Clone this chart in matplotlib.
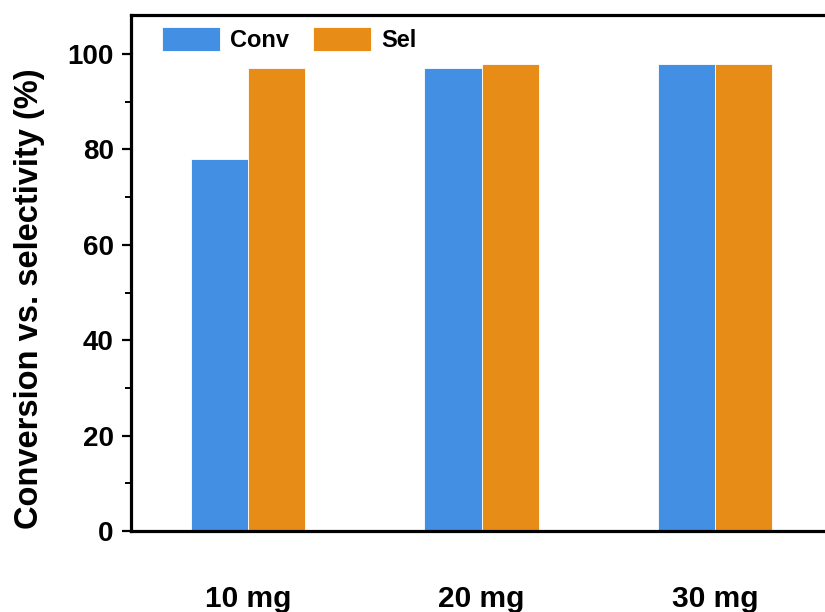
import matplotlib
matplotlib.use("Agg")
import matplotlib.pyplot as plt
import numpy as np
from matplotlib.ticker import MultipleLocator

categories = ["10 mg", "20 mg", "30 mg"]
conv = [78, 97, 98]
sel = [97, 98, 98]
series_names = ["Conv", "Sel"]
colors = ["#428FE4", "#E68C17"]

plt.rcParams['font.family'] = ['Liberation Sans', 'DejaVu Sans']
plt.rcParams['font.weight'] = 'bold'

fig = plt.figure(figsize=(8.25, 6.12), dpi=100)
ax = fig.add_axes([0.1588, 0.1324, 0.8497, 0.8431])

x = np.arange(len(categories))
w = 0.245
ax.bar(x - w/2, conv, w, color=colors[0], edgecolor='white', linewidth=0.6, label=series_names[0], zorder=2)
ax.bar(x + w/2, sel, w, color=colors[1], edgecolor='white', linewidth=0.6, label=series_names[1], zorder=2)

ax.set_xlim(-0.5, 2.5)
ax.set_ylim(0, 108.2)
ax.set_xticks(x)
ax.set_xticklabels(categories, fontsize=21.5, fontweight='bold')
ax.tick_params(axis='x', length=0, pad=39)

ax.yaxis.set_major_locator(MultipleLocator(20))
ax.yaxis.set_minor_locator(MultipleLocator(10))
ax.tick_params(axis='y', which='major', direction='out', length=6.5, width=1.6, labelsize=20, pad=6)
ax.tick_params(axis='y', which='minor', direction='out', length=4, width=1.4)
for lab in ax.get_yticklabels():
    lab.set_fontweight('bold')

for s in ['left', 'bottom', 'top']:
    ax.spines[s].set_linewidth(2.3)
ax.spines['right'].set_visible(False)

ax.set_ylabel("Conversion vs. selectivity (%)", fontsize=23.5, fontweight='bold')
ax.yaxis.set_label_coords(-0.122, 0.45)

leg = ax.legend(loc='center left', bbox_to_anchor=(0.044, 0.9525), ncol=2, frameon=False,
                fontsize=17, handlelength=2.45, handleheight=1.15, handletextpad=0.45,
                columnspacing=1.0, borderaxespad=0, borderpad=0)
for t in leg.get_texts():
    t.set_fontweight('bold')

fig.savefig("out.png", dpi=100)
